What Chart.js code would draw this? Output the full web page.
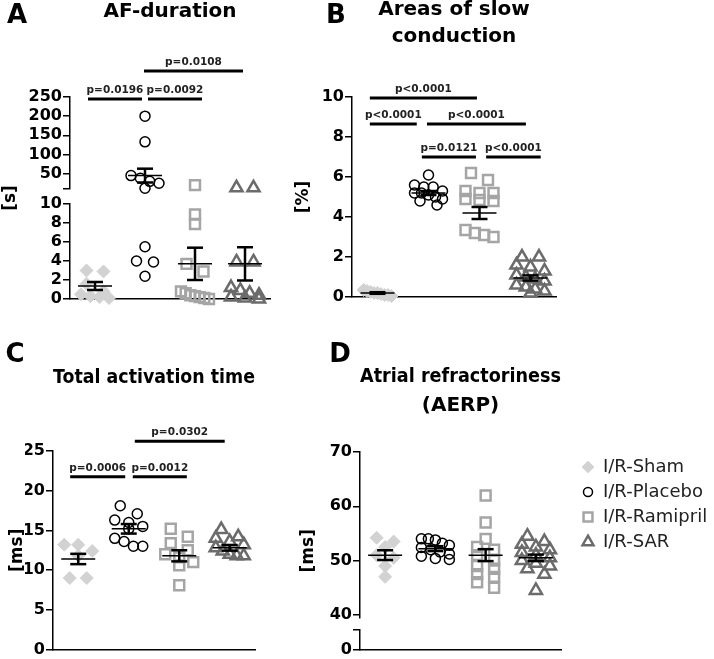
<!DOCTYPE html>
<html>
<head>
<meta charset="utf-8">
<title>I/R groups - AF, conduction, activation, AERP</title>
<script src="https://cdn.jsdelivr.net/npm/chart.js@4.4.1/dist/chart.umd.min.js"></script>
<style>
  body { margin: 0; background: #fff; }
  #wrap { position: relative; width: 714px; height: 659px; }
  canvas { position: absolute; }
</style>
</head>
<body>
<div id="wrap">
  <canvas id="chartA" width="290" height="320" style="left:0;top:0"></canvas>
  <canvas id="chartB" width="424" height="320" style="left:290px;top:0"></canvas>
  <canvas id="chartC" width="290" height="339" style="left:0;top:320px"></canvas>
  <canvas id="chartD" width="424" height="339" style="left:290px;top:320px"></canvas>
</div>
<script>
Chart.defaults.font.family = "'DejaVu Sans', sans-serif";
Chart.defaults.color = '#000';

const groups = ['I/R-Sham', 'I/R-Placebo', 'I/R-Ramipril', 'I/R-SAR'];

// A - AF-duration [s]
const afSham = [3.0, 2.9, 1.6, 0.8, 0.5, 0.3, 0.2, 0.1];
const afPlacebo = [200, 133, 45, 38, 30, 25, 12, 5.5, 4.0, 3.9, 2.4];
const afRamipril = [20, 8.9, 7.9, 3.7, 2.9, 0.8, 0.6, 0.4, 0.3, 0.2, 0.1, 0.0];
const afSar = [13, 13, 3.9, 3.9, 1.2, 0.9, 0.6, 0.4, 0.2, 0.1, 0.0];
const afMean = [1.37, 45, 3.7, 3.7];
const afSem = [0.42, 18, 1.7, 1.75];
const afTicksLow = [0, 2, 4, 6, 8, 10];
const afTicksHigh = [10, 50, 100, 150, 200, 250];
const afLabelsHigh = ['', '50', '100', '150', '200', '250'];
const afP = ['p=0.0196', 'p=0.0092', 'p=0.0108'];

// B - Areas of slow conduction [%]
const bSham = [0.35, 0.3, 0.25, 0.2, 0.2, 0.15, 0.1, 0.1, 0.05];
const bPlacebo = [6.1, 5.6, 5.5, 5.5, 5.3, 5.2, 5.2, 5.1, 5.0, 4.9, 4.8, 4.6];
const bRamipril = [6.2, 5.85, 5.3, 5.2, 5.2, 4.9, 4.85, 4.8, 3.35, 3.2, 3.1, 3.0];
const bSar = [2.0, 2.0, 1.6, 1.5, 1.3, 1.1, 1.0, 0.9, 0.8, 0.6, 0.5, 0.4, 0.3, 0.2];
const bMean = [0.2, 5.2, 4.2, 0.95];
const bSem = [0.04, 0.1, 0.3, 0.13];
const bTicks = [0, 2, 4, 6, 8, 10];
const bP = ['p<0.0001', 'p<0.0001', 'p<0.0001', 'p=0.0121', 'p<0.0001'];

// C - Total activation time [ms]
const cSham = [13.2, 13.2, 12.4, 11.8, 9.0, 9.0];
const cPlacebo = [18.1, 17.1, 16.3, 16.0, 15.5, 15.2, 14.0, 13.6, 13.0, 13.0];
const cRamipril = [15.2, 14.2, 13.4, 12.5, 12.0, 11.6, 11.0, 10.6, 8.1];
const cSar = [15.1, 14.2, 14.0, 13.6, 13.2, 12.8, 12.4, 12.0, 11.8, 11.8];
const cMean = [11.4, 15.2, 11.8, 12.8];
const cSem = [0.65, 0.6, 0.7, 0.35];
const cTicks = [0, 5, 10, 15, 20, 25];
const cP = ['p=0.0006', 'p=0.0012', 'p=0.0302'];

// D - Atrial refractoriness (AERP) [ms]
const dSham = [54.2, 53.5, 52.5, 51.0, 50.5, 49.0, 47.0];
const dPlacebo = [54.0, 54.0, 53.8, 53.2, 52.8, 52.4, 52.0, 51.6, 51.2, 50.8, 50.4, 50.2];
const dRamipril = [62.0, 57.0, 54.0, 52.5, 52.0, 51.0, 50.0, 49.0, 48.5, 47.5, 47.0, 46.0, 45.0];
const dSar = [54.5, 53.5, 53.0, 52.5, 52.0, 51.5, 51.0, 50.5, 50.0, 49.5, 49.0, 48.5, 47.5, 44.5];
const dMean = [51.0, 52.2, 51.0, 50.5];
const dSem = [0.9, 0.45, 1.1, 0.6];
const dTicksLow = [0, 1];
const dLabelsLow = ['0', ''];
const dTicksHigh = [40, 50, 60, 70];

const groupStyle = [
  {style: 'rectRot', radius: 6.5, fill: '#d2d2d2', stroke: '#d2d2d2', width: 1},
  {style: 'circle', radius: 5, fill: 'rgba(0,0,0,0)', stroke: '#000', width: 1.5},
  {style: 'rect', radius: 7, fill: 'rgba(0,0,0,0)', stroke: '#a5a5a5', width: 2.5},
  {style: 'triangle', radius: 7, fill: 'rgba(0,0,0,0)', stroke: '#6b6b6b', width: 2.5}
];

function segmentFor(cfg, v) {
  const segs = cfg.segments.filter(s => !s.gap);
  for (let i = segs.length - 1; i > 0; i--) {
    if (v > segs[i].min) return segs[i];
  }
  return segs[0];
}

function line(ctx, x1, y1, x2, y2) {
  ctx.beginPath();
  ctx.moveTo(x1, y1);
  ctx.lineTo(x2, y2);
  ctx.stroke();
}

// mean +/- SEM, p-value brackets, panel letter, legend
function overlay(cfg) {
  return {
    id: 'overlay',
    afterDatasetsDraw(chart) {
      const ctx = chart.ctx, xs = chart.scales.x;
      const py = v => chart.scales[segmentFor(cfg, v).id].getPixelForValue(v);
      ctx.save();
      ctx.strokeStyle = '#000';
      cfg.means.forEach((m, i) => {
        const cx = xs.getPixelForValue(i);
        const yM = py(m), yT = py(m + cfg.sems[i]), yB = py(m - cfg.sems[i]);
        ctx.lineWidth = 1.5;
        line(ctx, cx - 17, yM, cx + 17, yM);
        ctx.lineWidth = 2.5;
        line(ctx, cx, yT, cx, yB);
        line(ctx, cx - 8, yT, cx + 8, yT);
        line(ctx, cx - 8, yB, cx + 8, yB);
      });
      ctx.restore();
    },
    afterDraw(chart) {
      const ctx = chart.ctx, xs = chart.scales.x;
      const topSeg = cfg.segments[cfg.segments.length - 1];
      const ys = chart.scales[topSeg.id];
      ctx.save();
      ctx.font = "bold 10.5px 'DejaVu Sans'";
      ctx.textAlign = 'center';
      ctx.textBaseline = 'alphabetic';
      cfg.brackets.forEach(b => {
        const x1 = xs.getPixelForValue(b.from), x2 = xs.getPixelForValue(b.to);
        const y = ys.getPixelForValue(b.at);
        ctx.strokeStyle = '#000';
        ctx.lineWidth = 3;
        line(ctx, x1, y, x2, y);
        ctx.fillStyle = '#222';
        ctx.fillText(b.text, (x1 + x2) / 2, y - 6);
      });

      ctx.font = "bold 26px 'DejaVu Sans'";
      ctx.fillStyle = '#000';
      ctx.textBaseline = 'middle';
      ctx.fillText(cfg.letter, cfg.letterPos[0], cfg.letterPos[1]);

      if (cfg.legend) {
        const L = cfg.legend;
        ctx.font = "18px 'DejaVu Sans'";
        ctx.textAlign = 'left';
        groups.forEach((g, i) => {
          const st = groupStyle[i];
          const y = L.y + i * L.step;
          ctx.fillStyle = st.fill;
          ctx.strokeStyle = st.stroke;
          ctx.lineWidth = st.width;
          Chart.helpers.drawPoint(ctx, {pointStyle: st.style, radius: st.radius * 0.9, borderWidth: st.width, rotation: 0}, L.x, y);
          ctx.fillStyle = '#222';
          ctx.fillText(g, L.textX, y);
        });
      }
      ctx.restore();
    }
  };
}

function datasetsFor(cfg) {
  const out = [];
  cfg.values.forEach((vals, gi) => {
    cfg.segments.filter(s => !s.gap).forEach(s => {
      const pts = vals.filter(v => segmentFor(cfg, v) === s).map(v => ({x: gi, y: v}));
      if (!pts.length) return;
      const st = groupStyle[gi];
      out.push({
        label: groups[gi], group: gi, yAxisID: s.id, data: pts,
        pointStyle: st.style, pointRadius: st.radius, pointHoverRadius: st.radius,
        pointBorderWidth: st.width, pointBackgroundColor: st.fill, pointBorderColor: st.stroke,
        showLine: false, clip: false
      });
    });
  });
  return out;
}

// scatter the dots sideways, row by row, like a column scatter plot
function spread(chart) {
  const xs = chart.scales.x;
  const byGroup = {};
  chart.data.datasets.forEach(ds => {
    const ys = chart.scales[ds.yAxisID];
    ds.data = ds.data.map(p => ({x: p.x, y: p.y}));
    ds.data.forEach(p => {
      (byGroup[ds.group] = byGroup[ds.group] || []).push({p, py: ys.getPixelForValue(p.y)});
    });
  });
  Object.keys(byGroup).forEach(g => {
    const pts = byGroup[g].sort((a, b) => a.py - b.py);
    const rows = [];
    pts.forEach(q => {
      const row = rows[rows.length - 1];
      if (row && q.py - row[0].py < 8) row.push(q); else rows.push([q]);
    });
    rows.forEach(row => {
      const step = row.length > 1 ? Math.min(17, 28 / (row.length - 1)) : 0;
      row.forEach((q, i) => {
        q.p.x = xs.getValueForPixel(xs.getPixelForValue(+g) + (i - (row.length - 1) / 2) * step);
      });
    });
  });
  chart.update('none');
}

function buildPanel(cfg) {
  const scales = {
    x: {
      type: 'linear', min: -0.5, max: 3.5,
      grid: {display: false}, ticks: {display: false},
      border: {color: '#000', width: 1.5},
      afterFit: s => { s.height = 0; }
    },
    yTitle: {
      type: 'linear', position: 'left', weight: 5,
      grid: {display: false}, border: {display: false}, ticks: {display: false},
      title: {display: true, text: cfg.yTitle, color: '#000',
        font: {size: 17, weight: 'bold'}, padding: {top: cfg.yTitlePad, bottom: 0}},
      afterFit: s => { s.width = cfg.yTitleWidth; }
    }
  };
  cfg.segments.forEach(seg => {
    if (seg.gap) {
      scales[seg.id] = {type: 'linear', position: 'left', display: false, stack: 'y', stackWeight: seg.weight};
      return;
    }
    scales[seg.id] = {
      type: 'linear', position: 'left', stack: 'y', stackWeight: seg.weight,
      min: seg.min, max: seg.max,
      afterBuildTicks: s => { s.ticks = seg.ticks.map(v => ({value: v})); },
      ticks: {
        autoSkip: false, padding: 1, color: '#000',
        font: {size: 16, weight: 'bold', lineHeight: 0.8},
        callback: (v, i) => seg.labels ? seg.labels[i] : String(v)
      },
      grid: {drawOnChartArea: false, color: '#000', lineWidth: 1.5, tickLength: 7},
      border: {color: '#000', width: 1.5},
      afterFit: s => { s.width = cfg.axisWidth; }
    };
  });

  const chart = new Chart(document.getElementById(cfg.canvas), {
    type: 'scatter',
    data: {datasets: datasetsFor(cfg)},
    options: {
      responsive: false,
      animation: false,
      events: [],
      layout: {padding: cfg.padding},
      plugins: {
        legend: {display: false},
        tooltip: {enabled: false},
        title: {
          display: true, text: cfg.title, fullSize: false, color: '#000',
          font: {size: 20, weight: 'bold', lineHeight: cfg.titleLineHeight},
          padding: cfg.titlePadding
        }
      },
      scales: scales
    },
    plugins: [overlay(cfg)]
  });
  spread(chart);
  return chart;
}

buildPanel({
  canvas: 'chartA', letter: 'A', letterPos: [17, 16],
  title: 'AF-duration', titleLineHeight: 1.2, titlePadding: {top: 0, bottom: 73},
  yTitle: '[s]', yTitleWidth: 18, yTitlePad: 0, axisWidth: 52,
  padding: {left: 0, right: 20, top: 0, bottom: 21},
  segments: [
    {id: 'yLow', min: 0, max: 10, ticks: afTicksLow, weight: 95},
    {id: 'yGap', gap: true, weight: 15},
    {id: 'yHigh', min: 10, max: 250, ticks: afTicksHigh, labels: afLabelsHigh, weight: 92}
  ],
  values: [afSham, afPlacebo, afRamipril, afSar], means: afMean, sems: afSem,
  brackets: [
    {from: -0.14, to: 0.94, at: 245, text: afP[0]},
    {from: 1.06, to: 2.14, at: 245, text: afP[1]},
    {from: 0.98, to: 2.96, at: 318, text: afP[2]}
  ]
});

buildPanel({
  canvas: 'chartB', letter: 'B', letterPos: [46, 16],
  title: ['Areas of slow', 'conduction'], titleLineHeight: 1.35, titlePadding: {top: -3.5, bottom: 46.5},
  yTitle: '[%]', yTitleWidth: 24, yTitlePad: 3, axisWidth: 38,
  padding: {left: 0, right: 158, top: 0, bottom: 23},
  segments: [{id: 'y0', min: 0, max: 10, ticks: bTicks, weight: 1}],
  values: [bSham, bPlacebo, bRamipril, bSar], means: bMean, sems: bSem,
  brackets: [
    {from: -0.15, to: 1.95, at: 9.95, text: bP[0]},
    {from: -0.15, to: 0.77, at: 8.65, text: bP[1]},
    {from: 0.97, to: 2.91, at: 8.65, text: bP[2]},
    {from: 0.87, to: 1.93, at: 7.0, text: bP[3]},
    {from: 2.13, to: 3.2, at: 7.0, text: bP[4]}
  ]
});

buildPanel({
  canvas: 'chartC', letter: 'C', letterPos: [15, 35],
  title: 'Total activation time', titleLineHeight: 1.2, titlePadding: {top: 46, bottom: 61},
  yTitle: '[ms]', yTitleWidth: 25, yTitlePad: 7, axisWidth: 28,
  padding: {left: 0, right: 35, top: 0, bottom: 7},
  segments: [{id: 'y0', min: 0, max: 25, ticks: cTicks, weight: 1}],
  values: [cSham, cPlacebo, cRamipril, cSar], means: cMean, sems: cSem,
  brackets: [
    {from: -0.16, to: 0.93, at: 21.77, text: cP[0]},
    {from: 1.08, to: 2.15, at: 21.77, text: cP[1]},
    {from: 1.12, to: 2.9, at: 26.24, text: cP[2]}
  ]
});

buildPanel({
  canvas: 'chartD', letter: 'D', letterPos: [50, 35],
  title: ['Atrial refractoriness', '(AERP)'], titleLineHeight: 1.45, titlePadding: {top: 42.5, bottom: 31.5},
  yTitle: '[ms]', yTitleWidth: 30, yTitlePad: 8, axisWidth: 40,
  padding: {left: 0, right: 153, top: 0, bottom: 6},
  segments: [
    {id: 'yLow', min: 0, max: 1, ticks: dTicksLow, labels: dLabelsLow, weight: 20},
    {id: 'yGap', gap: true, weight: 12.5},
    {id: 'yHigh', min: 39.5, max: 70, ticks: dTicksHigh, weight: 168.5}
  ],
  values: [dSham, dPlacebo, dRamipril, dSar], means: dMean, sems: dSem,
  brackets: [],
  legend: {x: 298, textX: 313, y: 147, step: 25}
});
</script>
</body>
</html>
